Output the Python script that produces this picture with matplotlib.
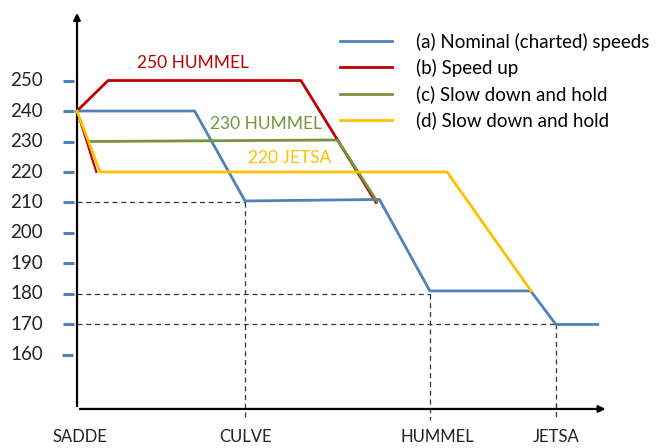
import matplotlib
matplotlib.use("Agg")
import matplotlib.pyplot as plt

plt.rcParams['font.family'] = ['Lato', 'DejaVu Sans']

# waypoints along the route (distance units) and their names
waypoints = ["SADDE", "CULVE", "HUMMEL", "JETSA"]
wp_dist = [0, 40, 84, 114]

# speed profiles: distance, speed (kt)
nominal_x = [0, 28, 40, 72, 84, 108, 114, 124]
nominal_y = [240, 240, 210.5, 211, 181, 181, 170, 170]

speedup_x = [0, 7.4, 53.3, 71.2]
speedup_y = [240, 250, 250, 210]
speedup_tail_x = [0, 4.6]
speedup_tail_y = [240, 220]

hold230_x = [3.1, 62, 71.4]
hold230_y = [230, 230.5, 210.5]

hold220_x = [0, 5.5, 88.1, 108.1]
hold220_y = [240, 220, 220, 181]

speed_ticks = [250, 240, 230, 220, 210, 200, 190, 180, 170, 160]

# reference crossings: (speed, waypoint index)
guides = [(210, 1), (180, 2), (170, 3)]

blue = "#4F81BD"
red = "#C00000"
green = "#77933C"
yellow = "#FFC000"

fig = plt.figure(figsize=(6.63, 4.48), dpi=100)
ax = fig.add_axes([0, 0, 1, 1])
ax.set_xlim(-18.33, 139.5)
ax.set_ylim(129.5, 276.4)
ax.axis("off")

axis_y = 142.3
axis_top = 273.1
axis_right = 126.5

# dashed guides
for spd, wi in guides:
    d = wp_dist[wi]
    ax.plot([0, d], [spd, spd], ls=(0, (4, 3)), color="#333333", lw=0.9, zorder=1)
    ax.plot([d, d], [spd, 138.7], ls=(0, (4, 3)), color="#333333", lw=0.9, zorder=1)

# axes with arrows
ax.annotate("", xy=(0, axis_top), xytext=(0, axis_y),
            arrowprops=dict(arrowstyle="-|>", color="black", lw=1.6, mutation_scale=10), zorder=6)
ax.annotate("", xy=(axis_right, axis_y), xytext=(0, axis_y),
            arrowprops=dict(arrowstyle="-|>", color="black", lw=1.6, mutation_scale=10), zorder=6)

# speed ticks and labels
for s in speed_ticks:
    x0 = -3.5 if s == 160 else -3.3
    ax.plot([x0, x0 + 2.6], [s, s], color=blue, lw=2.2, solid_capstyle="butt", zorder=2)
    ax.text(-8.1, s, str(s), ha="right", va="center", fontsize=13.5, color="#222222")

# waypoint labels
label_x = [0.7, 40.2, 85.7, 114]
for name, lx in zip(waypoints, label_x):
    ax.text(lx, 133.1, name, ha="center", va="center", fontsize=12, color="#222222")

# profiles
ax.plot(speedup_tail_x, speedup_tail_y, color=red, lw=1.5, zorder=3)
l_a, = ax.plot(nominal_x, nominal_y, color=blue, lw=2, zorder=4,
               label="(a) Nominal (charted) speeds")
l_b, = ax.plot(speedup_x, speedup_y, color=red, lw=2, zorder=3, label="(b) Speed up")
l_c, = ax.plot(hold230_x, hold230_y, color=green, lw=2, zorder=5,
               label="(c) Slow down and hold")
l_d, = ax.plot(hold220_x, hold220_y, color=yellow, lw=2, zorder=6,
               label="(d) Slow down and hold")

# in-chart annotations
ax.text(27.6, 255.7, "250 HUMMEL", color=red, fontsize=12.5, ha="center", va="center")
ax.text(45.0, 235.7, "230 HUMMEL", color=green, fontsize=12.5, ha="center", va="center")
ax.text(50.7, 224.6, "220 JETSA", color=yellow, fontsize=12.5, ha="center", va="center")

ax.legend(handles=[l_a, l_b, l_c, l_d], loc="upper left", bbox_to_anchor=(0.502, 0.944),
          frameon=False, fontsize=13.5, handlelength=2.77, handletextpad=1.28,
          labelspacing=0.44, borderaxespad=0)

fig.savefig("out.png", dpi=100)
